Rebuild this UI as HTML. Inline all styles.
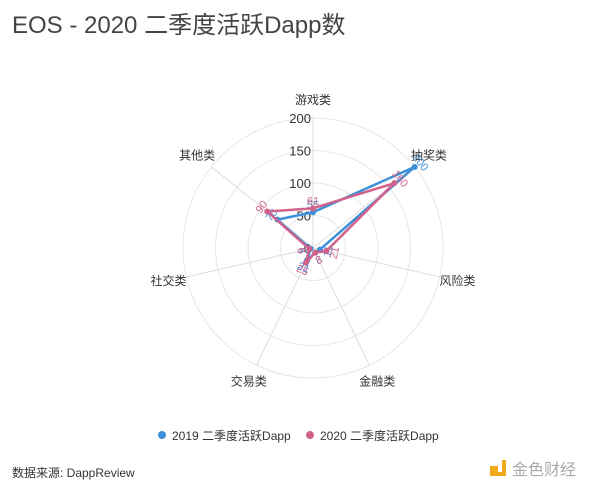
<!DOCTYPE html>
<html><head><meta charset="utf-8"><style>
body{margin:0;background:#fff;width:600px;height:492px;overflow:hidden;font-family:"Liberation Sans","Noto Sans CJK SC",sans-serif;}
</style></head><body>
<svg id="s" width="600" height="492" xmlns="http://www.w3.org/2000/svg" font-family="Liberation Sans, Noto Sans CJK SC, sans-serif">
<text x="12" y="33" font-size="24" fill="#444">EOS - 2020 二季度活跃Dapp数</text>
<text x="12" y="477" font-size="12" fill="#333">数据来源: DappReview</text>
<circle cx="162" cy="435" r="4" fill="#3d8fd8"/>
<text x="172" y="440" font-size="12" fill="#333">2019 二季度活跃Dapp</text>
<circle cx="310" cy="435" r="4" fill="#d1628c"/>
<text x="320" y="440" font-size="12" fill="#333">2020 二季度活跃Dapp</text>
<rect x="490" y="466" width="8" height="6" fill="#f0a81c"/>
<path d="M500 460 h6 v16 h-16 v-4 h12 v-12z" fill="#f0a81c"/>
<text x="512" y="475" font-size="16" fill="#aaa">金色财经</text>
<g id="g"></g>
</svg>
<script>
var cx=313,cy=248,R=130,N=7,ns="http://www.w3.org/2000/svg",g=document.getElementById('g');
function el(t,a,txt){var e=document.createElementNS(ns,t);for(var k in a)e.setAttribute(k,a[k]);if(txt!=null)e.textContent=txt;g.appendChild(e);return e;}
function pt(i,v){var a=-Math.PI/2+i*2*Math.PI/N,r=v/200*R;return [cx+r*Math.cos(a),cy+r*Math.sin(a)];}
[50,100,150,200].forEach(function(v){el('circle',{cx:cx,cy:cy,r:v/200*R,fill:'none',stroke:'#e6e6e6'});});
var names=['游戏类','抽奖类','风险类','金融类','交易类','社交类','其他类'];
for(var i=0;i<N;i++){var p=pt(i,200);el('line',{x1:cx,y1:cy,x2:p[0],y2:p[1],stroke:'#ddd'});
var q=pt(i,228);el('text',{x:q[0],y:q[1]+4,'font-size':12,fill:'#333','text-anchor':'middle'},names[i]);}
[0,50,100,150,200].forEach(function(v){el('text',{x:cx-2,y:cy-v/200*R+5,'font-size':13,fill:'#333','text-anchor':'end'},String(v));});
var d=[[55,200,11,8,21,4,70,'#3d8fd8'],[61,160,21,8,25,6,90,'#d1628c']];
d.forEach(function(s){var pts=[];for(var i=0;i<N;i++)pts.push(pt(i,s[i]).join(','));
el('polygon',{points:pts.join(' '),fill:'none',stroke:s[7],'stroke-width':2.5,'stroke-linejoin':'round'});
for(var i=0;i<N;i++){var p=pt(i,s[i]);el('circle',{cx:p[0],cy:p[1],r:3,fill:s[7]});
var a=i*360/N;while(a>90)a-=180;var q=pt(i,s[i]+12);el('text',{x:q[0],y:q[1]+4,'font-size':11,fill:s[7],'text-anchor':'middle',transform:'rotate('+a+' '+q[0]+' '+q[1]+')'},String(s[i]));}});
</script>
</body></html>
